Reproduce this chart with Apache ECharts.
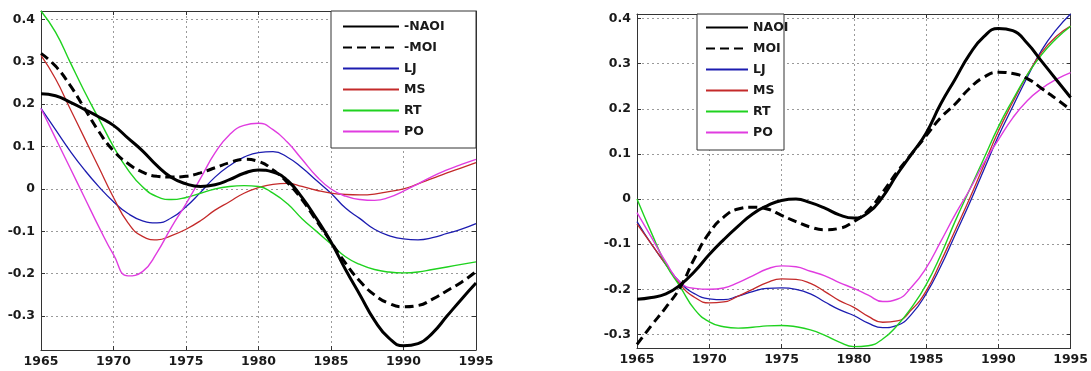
<!DOCTYPE html>
<html>
<head>
<meta charset="utf-8">
<script src="https://cdn.jsdelivr.net/npm/echarts@6/dist/echarts.min.js"></script>
<style>
html,body{margin:0;padding:0;background:#fff;}
#chart{width:1091px;height:371px;}
</style>
</head>
<body>
<div id="chart"></div>
<script>
// ---------- DATA ----------
const years = [1965,1966,1967,1968,1969,1970,1971,1972,1973,1974,1975,1976,1977,1978,1979,1980,
               1981,1982,1983,1984,1985,1986,1987,1988,1989,1990,1991,1992,1993,1994,1995];
const xTicks = [1965,1970,1975,1980,1985,1990,1995];

const leftNames = ['-NAOI','-MOI','LJ','MS','RT','PO'];
const rightNames = ['NAOI','MOI','LJ','MS','RT','PO'];

// Left panel
const L_NAOI = [0.225,0.22,0.205,0.188,0.17,0.15,0.12,0.09,0.055,0.027,0.012,0.006,0.01,0.022,0.037,0.045,
                0.04,0.02,-0.02,-0.07,-0.125,-0.19,-0.25,-0.31,-0.352,-0.37,-0.365,-0.34,-0.3,-0.26,-0.222];
const L_MOI  = [0.32,0.29,0.245,0.19,0.135,0.09,0.06,0.04,0.03,0.028,0.03,0.038,0.05,0.062,0.07,0.065,
                0.045,0.015,-0.025,-0.075,-0.125,-0.175,-0.218,-0.25,-0.27,-0.278,-0.275,-0.26,-0.24,-0.22,-0.195];
const L_LJ   = [0.19,0.14,0.09,0.045,0.005,-0.03,-0.058,-0.075,-0.08,-0.068,-0.042,-0.008,0.028,0.055,0.075,0.086,
                0.088,0.075,0.05,0.02,-0.01,-0.045,-0.07,-0.095,-0.11,-0.118,-0.12,-0.115,-0.105,-0.095,-0.082];
const L_MS   = [0.315,0.26,0.19,0.12,0.05,-0.02,-0.08,-0.112,-0.12,-0.11,-0.095,-0.075,-0.05,-0.03,-0.01,0.003,
                0.011,0.013,0.006,-0.003,-0.01,-0.013,-0.014,-0.012,-0.006,0.0,0.012,0.025,0.038,0.05,0.062];
const L_RT   = [0.42,0.37,0.3,0.23,0.165,0.1,0.045,0.005,-0.018,-0.025,-0.02,-0.01,0.0,0.006,0.008,0.006,
                -0.01,-0.035,-0.07,-0.1,-0.13,-0.16,-0.178,-0.19,-0.196,-0.198,-0.196,-0.19,-0.184,-0.178,-0.172];
const L_PO   = [0.19,0.12,0.05,-0.02,-0.09,-0.155,-0.205,-0.195,-0.15,-0.09,-0.035,0.025,0.085,0.128,0.15,0.155,
                0.14,0.11,0.07,0.03,0.0,-0.017,-0.025,-0.027,-0.02,-0.005,0.012,0.03,0.045,0.058,0.07];

// Right panel
const R_NAOI = [-0.222,-0.218,-0.21,-0.19,-0.16,-0.123,-0.09,-0.06,-0.033,-0.015,-0.003,0.0,-0.008,-0.02,-0.035,-0.042,
                -0.03,0.005,0.055,0.1,0.146,0.21,0.265,0.32,0.36,0.378,0.373,0.345,0.305,0.265,0.225];
const R_MOI  = [-0.322,-0.28,-0.24,-0.195,-0.13,-0.075,-0.04,-0.022,-0.018,-0.022,-0.036,-0.05,-0.062,-0.068,-0.065,-0.05,
                -0.025,0.015,0.06,0.1,0.14,0.18,0.21,0.245,0.27,0.281,0.278,0.267,0.245,0.222,0.198];
const R_LJ   = [-0.05,-0.1,-0.145,-0.185,-0.21,-0.221,-0.223,-0.215,-0.205,-0.198,-0.197,-0.2,-0.21,-0.228,-0.245,-0.258,
                -0.275,-0.285,-0.28,-0.255,-0.21,-0.15,-0.08,-0.01,0.065,0.139,0.205,0.27,0.33,0.375,0.41];
const R_MS   = [-0.055,-0.1,-0.145,-0.19,-0.218,-0.23,-0.228,-0.215,-0.2,-0.185,-0.177,-0.178,-0.187,-0.205,-0.225,-0.24,
                -0.26,-0.273,-0.27,-0.245,-0.204,-0.14,-0.07,0.0,0.075,0.15,0.215,0.275,0.325,0.36,0.383];
const R_RT   = [0.0,-0.075,-0.145,-0.195,-0.245,-0.272,-0.283,-0.286,-0.284,-0.281,-0.28,-0.283,-0.29,-0.302,-0.317,-0.327,
                -0.325,-0.31,-0.28,-0.24,-0.19,-0.125,-0.05,0.02,0.09,0.16,0.22,0.275,0.32,0.355,0.383];
const R_PO   = [-0.03,-0.085,-0.14,-0.185,-0.198,-0.2,-0.197,-0.185,-0.17,-0.155,-0.148,-0.15,-0.16,-0.17,-0.185,-0.198,
                -0.213,-0.227,-0.222,-0.195,-0.153,-0.095,-0.035,0.02,0.08,0.131,0.18,0.218,0.245,0.265,0.28];

// ---------- STYLE ----------
const FONT = 'DejaVu Sans';
const TXT = '#1a1a1a';
const styles = [
  {color:'#000000', width:3, type:'solid'},
  {color:'#000000', width:3, type:[9,5]},
  {color:'#1c1cb0', width:1.3, type:'solid'},
  {color:'#c42a2a', width:1.3, type:'solid'},
  {color:'#1fd21f', width:1.4, type:'solid'},
  {color:'#e03ce0', width:1.4, type:'solid'}
];
const leftData = [L_NAOI, L_MOI, L_LJ, L_MS, L_RT, L_PO];
const rightData = [R_NAOI, R_MOI, R_LJ, R_MS, R_RT, R_PO];

function pairs(arr){ return years.map((y,i)=>[y,arr[i]]); }

const grids = [
  {left:41, top:11, width:435, height:339, show:false},
  {left:637, top:14, width:434, height:334, show:false}
];
const yRanges = [[-0.38,0.42],[-0.33,0.41]];

const xAxes = [], yAxes = [];
[0,1].forEach(g=>{
  const splitStyle = {show:true, lineStyle:{color:'#9a9a9a', type:[2,3], width:1}};
  const axLine = {show:true, onZero:false, lineStyle:{color:'#333', width:1}};
  const tick = {show:true, inside:true, length:4, lineStyle:{color:'#333'}};
  xAxes.push({
    type:'value', gridIndex:g, position:'bottom', min:1965, max:1995, interval:5,
    axisLine:axLine, axisTick:tick, splitLine:splitStyle,
    axisLabel:{show:true, margin:5, color:TXT, fontFamily:FONT, fontSize:12.5, fontWeight:'bold',
      formatter:v=>String(v)}
  });
  xAxes.push({
    type:'value', gridIndex:g, position:'top', min:1965, max:1995, interval:5,
    axisLine:axLine, axisTick:tick, splitLine:{show:false}, axisLabel:{show:false}
  });
  yAxes.push({
    type:'value', gridIndex:g, position:'left', min:yRanges[g][0], max:yRanges[g][1], splitNumber:8,
    axisLine:axLine, axisTick:tick, splitLine:splitStyle,
    axisLabel:{show:true, margin:6, color:TXT, fontFamily:FONT, fontSize:12.5, fontWeight:'bold',
      showMinLabel:false, showMaxLabel:false,
      formatter:v=>{ const r=Math.round(v*10)/10; return (Math.abs(v - r) > 1e-6) ? '' : String(r); }}
  });
  yAxes.push({
    type:'value', gridIndex:g, position:'right', min:yRanges[g][0], max:yRanges[g][1], splitNumber:8,
    axisLine:axLine, axisTick:tick, splitLine:{show:false}, axisLabel:{show:false}
  });
});

const series = [];
function addSeries(names, data, xi, yi){
  // draw coloured lines first, black lines on top
  [2,3,4,5,1,0].forEach(i=>{
    series.push({
      name:names[i], type:'line', xAxisIndex:xi, yAxisIndex:yi, data:pairs(data[i]),
      smooth:0.5, symbol:'none', showSymbol:false, silent:true, animation:false,
      lineStyle:{color:styles[i].color, width:styles[i].width, type:styles[i].type},
      itemStyle:{color:styles[i].color}, z:2
    });
  });
}
addSeries(leftNames, leftData, 0, 0);
addSeries(rightNames, rightData, 2, 2);

const legendText = {color:TXT, fontFamily:FONT, fontSize:12.5, fontWeight:'bold'};
const legendItem = {opacity:0, borderWidth:0};
const legends = [
  {data:leftNames, orient:'vertical', left:342, top:20, itemWidth:56, itemHeight:14, itemGap:8,
   padding:0, textStyle:legendText, selectedMode:false, z:10, itemStyle:legendItem},
  {data:rightNames, orient:'vertical', left:705, top:21, itemWidth:42, itemHeight:14, itemGap:8,
   padding:0, textStyle:legendText, selectedMode:false, z:10, itemStyle:legendItem}
];

const chart = echarts.init(document.getElementById('chart'), null, {renderer:'canvas'});
chart.setOption({
  backgroundColor:'#ffffff',
  animation:false,
  grid:grids,
  xAxis:xAxes,
  yAxis:yAxes,
  legend:legends,
  graphic:[
    {type:'rect', shape:{x:331, y:11, width:145, height:137}, style:{fill:'#fff', stroke:'#333', lineWidth:1}, z:5},
    {type:'rect', shape:{x:697, y:14, width:87, height:136}, style:{fill:'#fff', stroke:'#333', lineWidth:1}, z:5}
  ],
  series:series
});
</script>
</body>
</html>
